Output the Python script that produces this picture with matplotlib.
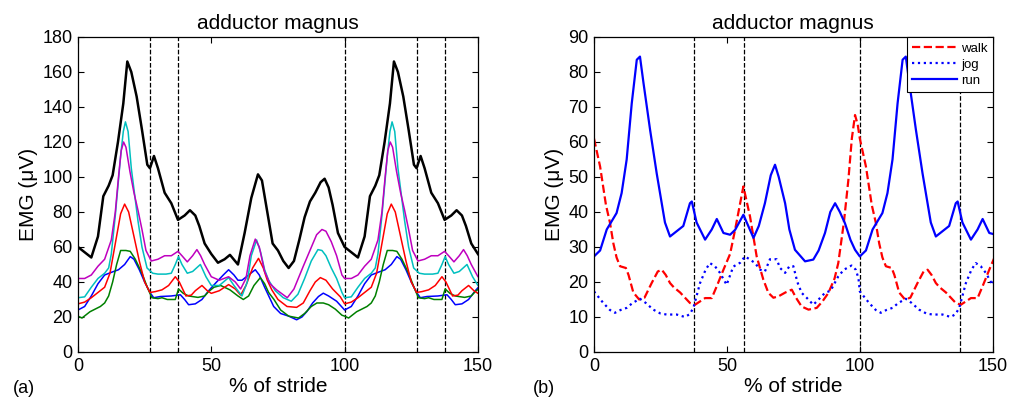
import numpy as np
import matplotlib
matplotlib.use("Agg")
import matplotlib.pyplot as plt

plt.rcParams['font.family'] = ['Liberation Sans', 'DejaVu Sans']

# one stride (0-100 %); the plot shows 1.5 strides
# --- panel (a): adductor magnus, several speeds
black_x = [0, 2.5, 5, 7.5, 9.5, 11.5, 13, 15, 17, 18.5, 20, 22, 24, 26, 27, 28.5, 30, 32.5, 35, 37.5,
           40, 42, 44, 45.5, 47.5, 50, 52.5, 55, 57, 60, 62.5, 65, 67.5, 69, 71, 73, 75, 77, 79, 81,
           83, 85, 87, 89, 91, 92.5, 94, 95.5, 97.5, 100]
black_y = [60, 57, 54, 66, 89, 95, 101, 120, 142, 166, 160, 146, 127, 107, 105, 112, 105, 91, 85, 75.5,
           78, 81, 78, 72, 62, 56, 51, 53, 55.5, 50, 68, 88, 101.5, 98, 80, 62, 58, 52, 48, 52,
           64, 77, 86, 91, 97, 99, 94, 84, 68, 60]

magenta_x = [0, 2.5, 5, 7.5, 10, 12.5, 14, 15.2, 16.2, 17.1, 18, 19.5, 21, 22.5, 24, 25.5, 27.5, 30,
             32.5, 35, 37.5, 39, 41, 43, 44.6, 46, 47.5, 50, 53, 56.5, 59, 61, 63, 64.5, 66.5, 68,
             70, 72, 74.5, 78.5, 81, 84.5, 87, 89.5, 91.5, 93, 95, 97, 99, 100]
magenta_y = [42, 42, 44, 49, 53, 64, 80, 100, 115, 120, 117, 103, 91, 81, 70, 58, 52, 53,
             55, 55, 57.5, 55, 51.5, 55, 58.5, 55, 50, 43, 41, 43, 40, 36, 42, 55, 64.5, 60,
             46, 39, 35.5, 31, 36, 49, 58, 67, 70, 69, 63, 55, 44, 42]

cyan_x = [0, 2.5, 5, 7.5, 10, 11.5, 12.5, 14, 15, 16, 17, 17.8, 18.8, 20, 22.5, 24, 25.9, 28, 30, 33,
          35, 36.5, 37.7, 39, 41, 43, 45.9, 48, 50, 53, 56.5, 58.5, 61.5, 63.5, 65, 67, 68.5, 70,
          71.5, 74, 77, 80, 82.5, 85, 87.5, 90, 91.5, 93, 95, 97, 99, 100]
cyan_y = [31, 31.5, 37, 42, 45, 48, 56, 78, 95, 112, 126, 131.5, 126, 105, 75, 60, 48, 45, 44.5, 44.5,
          45, 50, 54.5, 50, 45, 46, 50, 43, 38, 38, 42.5, 38, 32, 40, 55, 64, 57, 47,
          41, 35, 31, 29, 33, 42, 52, 58.5, 58, 55, 48, 42, 34, 31]

red_x = [0, 2.5, 5, 7.5, 10, 12, 14, 16, 17.5, 19, 21, 23, 25, 27, 29, 31.5, 34, 36.5, 38, 40.5,
         42.5, 44, 46.5, 48.5, 50, 53, 56.5, 59, 61, 63, 65.5, 67.7, 69.5, 71, 72.7, 75, 78.4,
         82, 84.5, 87, 89, 90.9, 93, 95.5, 98.4, 100]
red_y = [27.5, 28.5, 31, 34, 37, 45, 62, 79, 84.5, 80, 66, 52, 40, 34, 34.5, 35.5, 38, 43, 40, 32,
         32.5, 35, 38, 35, 33.5, 35, 38.5, 36, 32.5, 38, 48, 53.5, 48, 41, 35.5, 30, 26,
         25.5, 28, 35, 40, 42.5, 41, 36, 31.5, 27.5]

green_x = [0, 1.5, 4.5, 8.4, 10, 11.5, 13, 14.5, 16, 18, 19.6, 21.5, 24, 26, 27.7, 30, 31.5, 33.5,
           36.5, 37.7, 39.5, 41.5, 45, 47.5, 49, 51, 53.5, 57, 60, 62, 64, 66, 68.4, 70, 71.5,
           73.5, 76, 79, 82.7, 85, 87.5, 89.6, 92, 94, 96.5, 99, 100]
green_y = [20.5, 19.4, 23, 26, 28, 32, 40, 50, 58, 58, 57.5, 53, 45, 37, 31, 30.5, 31, 30,
           30, 36, 33.5, 32, 31.2, 32, 34.5, 37, 38, 35.5, 32, 30, 32, 38, 42.5, 39, 34,
           30, 24, 20.5, 19.4, 22, 26, 28, 28, 27, 24.5, 21, 20.5]

blue_x = [0, 2.5, 5, 7.5, 10, 12.5, 15.2, 17.5, 19.6, 21, 23, 25, 27, 28.4, 30.9, 35, 38.4, 40,
          41.5, 44, 46.5, 49, 52, 54.5, 56.5, 58.5, 60, 61.5, 64, 66.5, 68, 70, 73.4, 76, 79,
          82, 84, 85.9, 88, 90.2, 92, 94, 97, 100]
blue_y = [24, 26, 32, 39, 44, 45.5, 47, 50, 54.5, 53, 47, 40, 34, 31, 31.7, 32, 32.7, 30,
          27, 27.5, 30, 35, 40, 44, 47, 44, 41, 41, 44, 47, 44, 37, 26, 22, 20.5,
          18.4, 20, 23.2, 28, 31.7, 33.6, 32, 29, 24]

# --- panel (b): walk / jog / run
walk_x = [0, 2.3, 4.5, 6, 7.3, 8.5, 9.8, 12, 13, 14.8, 17, 19, 21.7, 24, 25.5, 27, 28.6, 30, 32.4,
          36.1, 38, 41.8, 44.3, 46.2, 48.7, 51.2, 53.1, 56.2, 58.7, 61.2, 63.7, 65.6, 67.5, 69.4,
          72, 74.4, 76, 78.1, 80.7, 83.8, 86, 88.2, 90.5, 91.9, 94, 95.7, 97, 98.2, 99.2, 100]
walk_y = [61, 53, 42, 37, 31, 27, 24.5, 24, 22, 17, 15, 15.5, 19.7, 23, 23.5, 22, 19.7, 18.5, 17,
          14, 13.5, 15.4, 15.4, 18.8, 23.5, 28, 35, 47.3, 38.7, 27.3, 20.7, 16.9, 15.5, 15.9,
          17, 17.8, 15.5, 13, 12.1, 12.6, 14.5, 16.9, 21, 25.4, 37, 49.2, 61, 67.7, 65, 61]

jog_x = [0, 3.5, 6, 7.9, 10, 12.3, 14.5, 17.3, 19.5, 22.3, 25, 27.3, 31.1, 34.2, 36, 37.4, 39.9, 42,
         43.6, 45.5, 47.4, 49.9, 52.4, 55, 56.8, 58.5, 60.6, 62.5, 64.3, 66.2, 68.7, 70, 71.9,
         73.5, 75, 76.5, 78.1, 80, 82.5, 84.5, 86.9, 89, 91.9, 94, 96.9, 98.5, 99.5, 100]
jog_y = [17.3, 14, 12, 11.2, 12, 12.6, 14, 15.2, 14, 12.1, 11, 10.7, 10.7, 10, 10.8, 12.6, 19.7, 23.5,
         25.4, 24.5, 22.6, 19.2, 24.4, 25.5, 27.3, 26.5, 25.4, 23.5, 23, 26.5, 26.5, 24, 22.6,
         24.5, 24.5, 20, 16.9, 15.5, 13.5, 15, 16.9, 17.5, 21.6, 23.5, 24.7, 23.5, 21, 17.3]

run_x = [0, 2.3, 4.8, 8.5, 10.4, 12.3, 14.2, 16.1, 17.3, 18.6, 21.1, 23.6, 26.7, 28.6, 31.1, 33.6,
         36.1, 36.8, 38.6, 41.8, 44.3, 46.2, 48.7, 51.2, 53.1, 56.2, 60, 62, 64.3, 66.5, 68.1,
         69.5, 71.9, 73.5, 75.6, 79.4, 82.5, 84.5, 86.9, 88.9, 90.7, 92.5, 94.4, 96.5, 98.2, 100]
run_y = [27.3, 29, 35, 39.7, 45.4, 55, 71, 83.5, 84.4, 77, 63.5, 51, 37, 33, 34.5, 36,
         42.5, 43, 37, 32.1, 35, 38, 34, 33.5, 34.9, 39.2, 32.6, 36, 42.5, 50.5, 53.5,
         50, 42.5, 35, 29.2, 25.9, 26.4, 29, 34, 40, 42.5, 40, 36.8, 32, 29.2, 27.3]

events_a = [27, 37.5, 100, 127, 137.5]
events_b = [37.5, 56.5, 100, 137.5]


def strides(x, y):
    # the figure repeats the stride cycle: append the next stride
    x = np.asarray(x, float)
    y = np.asarray(y, float)
    return np.concatenate([x, x[1:] + 100]), np.concatenate([y, y[1:]])


def style(ax, ymax, step):
    ax.set_xlim(0, 150)
    ax.set_ylim(0, ymax)
    ax.set_xticks([0, 50, 100, 150])
    ax.set_yticks(np.arange(0, ymax + 1, step))
    ax.tick_params(direction='in', top=True, right=True, length=4, width=0.8,
                   labelsize=13, pad=4)
    for s in ax.spines.values():
        s.set_linewidth(0.9)
    ax.set_title('adductor magnus', fontsize=15, pad=6)
    ax.set_xlabel('% of stride', fontsize=15, labelpad=2)
    ax.set_ylabel('EMG (\u03bcV)', fontsize=15, labelpad=3)


fig = plt.figure(figsize=(10.1, 4.03), dpi=100)
ax1 = fig.add_axes([0.0772, 0.1266, 0.396, 0.7816])
ax2 = fig.add_axes([0.5881, 0.1266, 0.3948, 0.7816])

# (a)
ax1.plot(*strides(blue_x, blue_y), color='#0000ff', lw=1.1, zorder=1)
ax1.plot(*strides(green_x, green_y), color='#008000', lw=1.1, zorder=2)
ax1.plot(*strides(red_x, red_y), color='#ff0000', lw=1.1, zorder=2)
ax1.plot(*strides(cyan_x, cyan_y), color='#00bfbf', lw=1.1, zorder=2)
ax1.plot(*strides(magenta_x, magenta_y), color='#bf00bf', lw=1.1, zorder=2)
ax1.plot(*strides(black_x, black_y), color='black', lw=1.8, zorder=3)
for e in events_a:
    ax1.axvline(e, color='black', ls='--', lw=0.9, zorder=0)
style(ax1, 180, 20)

# (b)
ax2.plot(*strides(walk_x, walk_y), color='#ff0000', ls='--', lw=1.6, label='walk')
ax2.plot(*strides(jog_x, jog_y), color='#0000ff', ls=':', lw=1.6, label='jog')
ax2.plot(*strides(run_x, run_y), color='#0000ff', ls='-', lw=1.6, label='run')
for e in events_b:
    ax2.axvline(e, color='black', ls='--', lw=0.9, zorder=0)
style(ax2, 90, 10)
leg = ax2.legend(loc='upper right', fontsize=9.5, frameon=True, fancybox=False,
                 framealpha=1, edgecolor='black', borderaxespad=0, handlelength=3.4,
                 handletextpad=0.3, labelspacing=0.3, borderpad=0.4)
leg.get_frame().set_linewidth(0.8)

fig.text(0.013, 0.035, '(a)', fontsize=13, va='center', ha='left')
fig.text(0.528, 0.035, '(b)', fontsize=13, va='center', ha='left')

fig.savefig('out.png', dpi=100)
